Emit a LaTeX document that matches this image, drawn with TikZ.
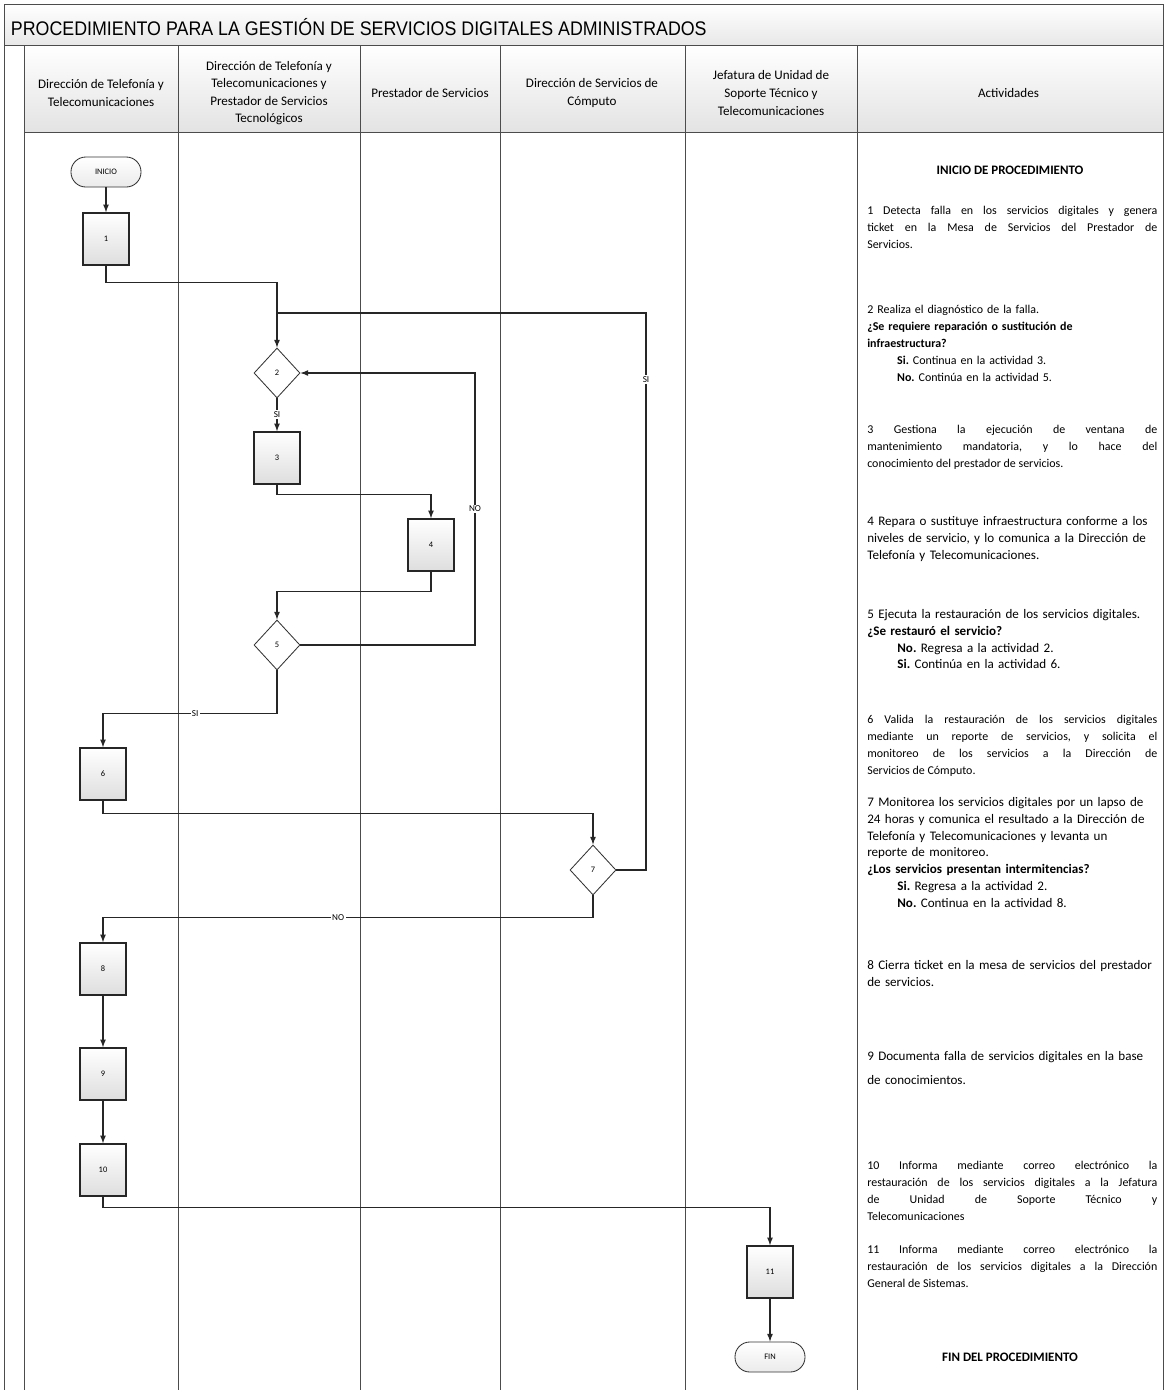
\documentclass[tikz,border=0pt]{standalone}
\usepackage{fontspec}
\setmainfont{Carlito}
\newfontfamily\titlefont[FakeStretch=0.905]{Liberation Sans}
\usetikzlibrary{shapes.geometric, positioning}

\tikzset{
  lane/.style={draw=black!70, line width=0.7pt},
  actbox/.style={draw=black!85, line width=1pt, minimum width=1.15cm, minimum height=1.3cm,
    top color=white, bottom color=black!13, font=\fontsize{6}{7}\selectfont},
  decbox/.style={diamond, draw=black!80, line width=0.6pt, fill=white, minimum width=1.15cm,
    minimum height=1.25cm, inner sep=0pt, font=\fontsize{6}{7}\selectfont},
  termbox/.style={draw=black!80, line width=0.6pt, rounded corners=0.37cm, minimum width=1.75cm,
    minimum height=0.75cm, top color=white, bottom color=black!8, font=\fontsize{6}{7}\selectfont},
  flow/.style={->, draw=black!85, line width=0.9pt},
  lbl/.style={fill=white, inner sep=1pt, font=\fontsize{6.5}{7}\selectfont},
  headtxt/.style={align=center, font=\fontsize{9.3}{12.5}\selectfont},
  acttxt/.style={anchor=north west, inner sep=0pt, text width=7.25cm, align=left,
    font=\fontsize{9.3}{12}\selectfont},
  actjust/.style={acttxt, align=justify, font=\fontsize{8.5}{12}\selectfont}
}

\begin{document}
\frenchspacing
\begin{tikzpicture}[x=0.025cm, y=-0.025cm, >=latex]
\useasboundingbox (0,0) rectangle (1167,1390);

% title and header rows
\shade[top color=white, bottom color=black!9] (4,4) rectangle (1163,45);
\shade[top color=white, bottom color=black!11] (24,45) rectangle (1163,132);
\node[anchor=west, font=\titlefont\fontsize{14}{16}\selectfont] (titulo) at (6,27)
  {PROCEDIMIENTO PARA LA GESTIÓN DE SERVICIOS DIGITALES ADMINISTRADOS};

% lanes
\draw[lane] (4,1390) -- (4,4) -- (1163,4) -- (1163,1390);
\draw[lane] (4,45) -- (1163,45);
\draw[lane] (24,132) -- (1163,132);
\foreach \x in {24,178,360,500,685,857} {
  \draw[lane] (\x,45) -- (\x,1390);
}

% lane headers
\foreach \x/\nm/\txt in {
    101/hdtt/{Dirección de Telefonía y\\Telecomunicaciones},
    269/hdps/{Dirección de Telefonía y\\Telecomunicaciones y\\Prestador de Servicios\\Tecnológicos},
    430/hps/{Prestador de Servicios},
    592/hdsc/{Dirección de Servicios de\\Cómputo},
    771/hjst/{Jefatura de Unidad de\\Soporte Técnico y\\Telecomunicaciones},
    1010/hact/{Actividades}
  } {
  \node[headtxt] (\nm) at (\x,93) {\txt};
}

% flow shapes
\node[termbox] (inicio) at (106,172) {INICIO};
\node[actbox] (a1) at (106,239) {1};
\node[decbox] (d2) at (277,373) {2};
\node[actbox] (a3) at (277,458) {3};
\node[actbox] (a4) at (431,545) {4};
\node[decbox] (d5) at (277,645) {5};
\node[actbox] (a6) at (103,774) {6};
\node[decbox] (d7) at (593,870) {7};
\node[actbox] (a8) at (103,969) {8};
\node[actbox] (a9) at (103,1074) {9};
\node[actbox] (a10) at (103,1170) {10};
\node[actbox] (a11) at (770,1272) {11};
\node[termbox] (fin) at (770,1357) {FIN};

\coordinate (cJunta) at (277,313);
\coordinate (cSi) at (646,313);
\coordinate (cNo) at (475,373);

% connectors
\draw[flow] (inicio) -- (a1);
\draw[flow] (a1.south) -- ++(0,17) -| (d2.north);
\draw[draw=black!85, line width=0.9pt] (d7.east) -| node[pos=0.94, lbl] {SI} (cSi) -- (cJunta);
\draw[flow] (d2.south) -- node[lbl] {SI} (a3.north);
\draw[flow] (a3.south) -- ++(0,10) -| (a4.north);
\draw[flow] (a4.south) -- ++(0,20) -| (d5.north);
\draw[flow] (d5.east) -| node[pos=0.75, lbl] {NO} (cNo) -- (d2.east);
\draw[flow] (d5.south) -- ++(0,43) -| node[pos=0.235, lbl] {SI} (a6.north);
\draw[flow] (a6.south) -- ++(0,13) -| (d7.north);
\draw[flow] (d7.south) -- ++(0,22) -| node[pos=0.26, lbl] {NO} (a8.north);
\draw[flow] (a8) -- (a9);
\draw[flow] (a9) -- (a10);
\draw[flow] (a10.south) -- ++(0,11) -| (a11.north);
\draw[flow] (a11) -- (fin);

% activities
\node[font=\bfseries\fontsize{9.2}{12}\selectfont] (tInicio) at (1010,170) {INICIO DE PROCEDIMIENTO};
\node[actjust] (t1) at (867,206) {1 Detecta falla en los servicios digitales y genera\linebreak
  ticket en la Mesa de Servicios del Prestador de\linebreak Servicios.};
\node[acttxt, font=\fontsize{8.5}{12}\selectfont] (t2) at (867,305) {2 Realiza el diagnóstico de la falla.\\
  \textbf{¿Se requiere reparación o sustitución de}\\
  \textbf{infraestructura?}\\
  \hspace*{2.5em}\textbf{Si.} Continua en la actividad 3.\\
  \hspace*{2.5em}\textbf{No.} Continúa en la actividad 5.};
\node[actjust] (t3) at (867,425) {3 Gestiona la ejecución de ventana de\linebreak
  mantenimiento mandatoria, y lo hace del\linebreak conocimiento del prestador de servicios.};
\node[acttxt] (t4) at (867,516) {4 Repara o sustituye infraestructura conforme a los\\
  niveles de servicio, y lo comunica a la Dirección de\\ Telefonía y Telecomunicaciones.};
\node[acttxt] (t5) at (867,609) {5 Ejecuta la restauración de los servicios digitales.\\
  \textbf{¿Se restauró el servicio?}\\
  \hspace*{2.3em}\textbf{No.} Regresa a la actividad 2.\\
  \hspace*{2.3em}\textbf{Si.} Continúa en la actividad 6.};
\node[actjust] (t6) at (867,715) {6 Valida la restauración de los servicios digitales\linebreak
  mediante un reporte de servicios, y solicita el\linebreak
  monitoreo de los servicios a la Dirección de\linebreak Servicios de Cómputo.};
\node[acttxt] (t7) at (867,797) {7 Monitorea los servicios digitales por un lapso de\\
  24 horas y comunica el resultado a la Dirección de\\
  Telefonía y Telecomunicaciones y levanta un\\ reporte de monitoreo.\\
  \textbf{¿Los servicios presentan intermitencias?}\\
  \hspace*{2.3em}\textbf{Si.} Regresa a la actividad 2.\\
  \hspace*{2.3em}\textbf{No.} Continua en la actividad 8.};
\node[acttxt] (t8) at (867,960) {8 Cierra ticket en la mesa de servicios del prestador\\ de servicios.};
\node[acttxt] (t9) at (867,1051) {9 Documenta falla de servicios digitales en la base\\[5pt] de conocimientos.};
\node[actjust] (t10) at (867,1161) {10 Informa mediante correo electrónico la\linebreak
  restauración de los servicios digitales a la Jefatura\linebreak
  de Unidad de Soporte Técnico y\linebreak Telecomunicaciones};
\node[actjust] (t11) at (867,1245) {11 Informa mediante correo electrónico la\linebreak
  restauración de los servicios digitales a la Dirección\linebreak General de Sistemas.};
\node[font=\bfseries\fontsize{9.2}{12}\selectfont] (tFin) at (1010,1357) {FIN DEL PROCEDIMIENTO};
\end{tikzpicture}
\end{document}
